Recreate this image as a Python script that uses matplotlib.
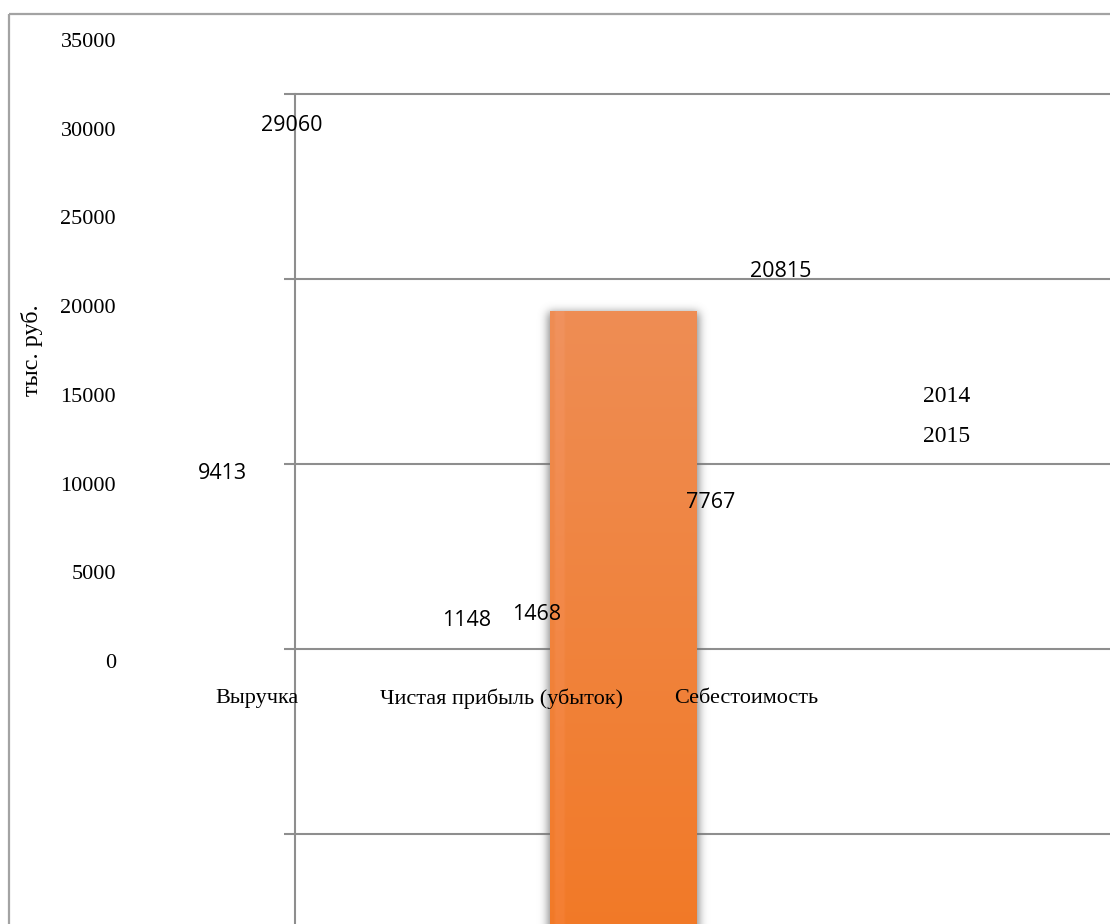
import numpy as np
import matplotlib
matplotlib.use('Agg')
import matplotlib.pyplot as plt
from matplotlib.lines import Line2D

# ---------------- data ----------------
categories = ['Выручка', 'Чистая прибыль (убыток)', 'Себестоимость']
values_2014 = [9413, 1148, 7767]
values_2015 = [29060, 1468, 20815]
series_names = ['2014', '2015']
y_ticks = [0, 5000, 10000, 15000, 20000, 25000, 30000, 35000]
y_label = 'тыс. руб.'
overlay_pos = [1.5]
overlay_top = [19700]

# ---------------- layout helpers ----------------
W, H = 1110, 924
fig = plt.figure(figsize=(W / 100, H / 100), dpi=100)
fig.patch.set_facecolor('white')


def rect(x0, y0, x1, y1):
    return [x0 / W, 1 - y1 / H, (x1 - x0) / W, (y1 - y0) / H]


SERIF = 'Liberation Serif'
SANS = 'Open Sans'

# outer chart frame (left and top edges visible)
frame_c = '#a3a3a3'
fig.add_artist(Line2D([9 / W, 9 / W], [0, 1 - 13.7 / H], color=frame_c, lw=1.6,
                      transform=fig.transFigure, solid_capstyle='butt'))
fig.add_artist(Line2D([9 / W, 1], [1 - 13.7 / H, 1 - 13.7 / H], color=frame_c, lw=1.6,
                      transform=fig.transFigure, solid_capstyle='butt'))

# secondary (displaced) plot area with gridlines
grid_c = '#8e8e8e'
ax2 = fig.add_axes(rect(295, 80, 1110, 924))
ax2.set_zorder(0)
ax2.set_xlim(0, 1)
ax2.set_ylim((924 - 93.5) / 185.2, -13.5 / 185.2)
ax2.set_yticks(range(5))
ax2.yaxis.grid(True, color=grid_c, lw=1.5)
ax2.tick_params(axis='y', length=8.0, width=1.5, color=grid_c, labelleft=False)
ax2.set_xticks([])
for s in ['top', 'right', 'bottom']:
    ax2.spines[s].set_visible(False)
ax2.spines['left'].set_color(grid_c)
ax2.spines['left'].set_linewidth(1.5)
ax2.spines['left'].set_bounds(0, 6)
ax2.patch.set_visible(False)

# main data axes
ax = fig.add_axes(rect(134.75, 40, 868.25, 661))
ax.set_zorder(2)
ax.patch.set_visible(False)
ax.set_axisbelow(False)
x = np.arange(len(categories))
w = 0.286
b1 = ax.bar(x - w / 2, values_2014, w, color='none', label=series_names[0])
b2 = ax.bar(x + w / 2, values_2015, w, color='none', label=series_names[1])
ax.bar_label(b1, padding=7, fontsize=15.5, family=SANS, color='black', zorder=5)
ax.bar_label(b2, padding=7, fontsize=15.5, family=SANS, color='black', zorder=5)

# overlay orange bar (gradient + soft shadow)
py = 35000 / 621.0   # data units per pixel (y)
pxu = 1 / 244.5      # data units per pixel (x)
half = 0.3
bottom = -16000
for pos, top in zip(overlay_pos, overlay_top):
    # shadow
    m = 20
    nx = int(round(2 * half / pxu)) + 2 * m
    ny = int(round((top - bottom) / py)) + 2 * m

    def prof(n, inner0, inner1, sig=4.5):
        t = np.arange(n)
        step = ((t >= inner0) & (t < inner1)).astype(float)
        k = np.exp(-0.5 * (np.arange(-18, 19) / sig) ** 2)
        k /= k.sum()
        return np.convolve(step, k, mode='same')
    fx = prof(nx, m - 2, nx - m + 2)
    fy = prof(ny, m + 1, ny)
    alpha = np.outer(fy, fx) * 0.8
    sh = np.zeros((ny, nx, 4))
    sh[..., 0:3] = 0.42
    sh[..., 3] = alpha
    ax.imshow(sh, extent=[pos - half - m * pxu, pos + half + m * pxu,
                          bottom - m * py, top + m * py],
              aspect='auto', clip_on=False, zorder=0.6, interpolation='bilinear')
    # gradient fill
    n = 200
    t = np.linspace(0, 1, n)[:, None]
    c_top = np.array([238, 141, 84]) / 255
    c_bot = np.array([242, 121, 38]) / 255
    grad = c_top + (c_bot - c_top) * t
    grad = np.repeat(grad[:, None, :], 60, axis=1)
    grad[:, 2:6, :] = np.clip(grad[:, 2:6, :] + np.array([0.01, 0.02, 0.04]), 0, 1)
    ax.imshow(grad, extent=[pos - half, pos + half, bottom, top], aspect='auto',
              clip_on=False, zorder=0.8, interpolation='bilinear')

ax.set_xlim(-0.5, 2.5)
ax.set_ylim(0, 35000)
ax.set_yticks(y_ticks)
ax.set_yticklabels([str(v) for v in y_ticks], fontsize=16, family=SERIF)
ax.set_xticks(x)
ax.set_xticklabels(categories, fontsize=16, family=SERIF)
ax.tick_params(axis='y', length=0, pad=13.5)
ax.tick_params(axis='x', length=0, pad=20)
for s in ax.spines.values():
    s.set_visible(False)

# legend entries (text only)
for name, yy in zip(series_names, [394, 434]):
    fig.text(947 / W, 1 - yy / H, name, ha='center', va='center_baseline',
             fontsize=17, family=SERIF)

# axis title
fig.text(32 / W, 1 - 350 / H, y_label, rotation=90, ha='center', va='center',
         fontsize=17.5, family=SERIF)

fig.savefig('out.png', dpi=100)
